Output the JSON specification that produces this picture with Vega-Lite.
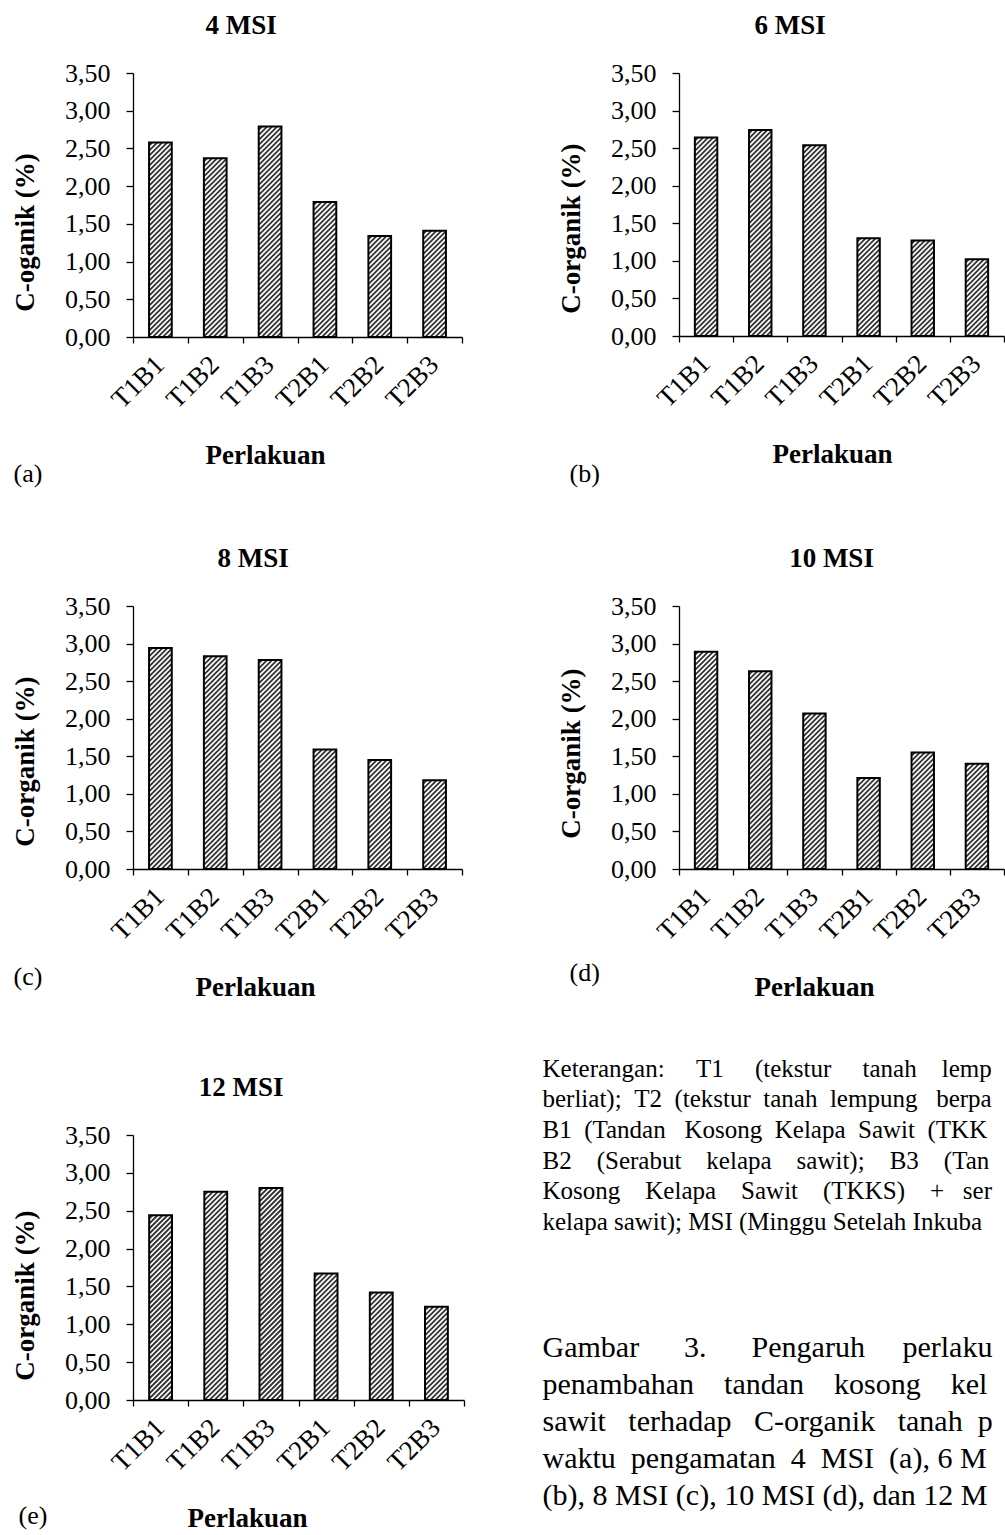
{
  "$schema": "https://vega.github.io/schema/vega-lite/v6.json",
  "background": "white",
  "padding": {"left": 11, "top": 12, "right": 0, "bottom": 0},
  "autosize": {"type": "pad"},
  "config": {
    "font": "Liberation Serif",
    "view": {"stroke": null},
    "title": {"font": "Liberation Serif", "fontSize": 27, "fontWeight": "bold", "color": "black", "anchor": "middle", "frame": "bounds", "offset": 20},
    "axis": {"labelFont": "Liberation Serif", "titleFont": "Liberation Serif", "labelFontSize": 26, "titleFontSize": 27, "titleFontWeight": "bold", "labelColor": "black", "titleColor": "black", "domainColor": "black", "tickColor": "black", "domainWidth": 1.3, "tickWidth": 1.3, "grid": false, "labelOverlap": false, "labelFlush": false},
    "axisX": {"labelAngle": -45, "labelFontSize": 27, "labelOffset": -10, "tickSize": 6, "tickBand": "extent", "labelPadding": 8, "titlePadding": 30},
    "axisY": {"tickSize": 7, "labelPadding": 16, "titlePadding": 25}
  },
  "datasets": {
    "c": [
      {"msi": "4 MSI", "perlakuan": "T1B1", "c": 2.58},
      {"msi": "4 MSI", "perlakuan": "T1B2", "c": 2.37},
      {"msi": "4 MSI", "perlakuan": "T1B3", "c": 2.79},
      {"msi": "4 MSI", "perlakuan": "T2B1", "c": 1.79},
      {"msi": "4 MSI", "perlakuan": "T2B2", "c": 1.34},
      {"msi": "4 MSI", "perlakuan": "T2B3", "c": 1.41},
      {"msi": "6 MSI", "perlakuan": "T1B1", "c": 2.64},
      {"msi": "6 MSI", "perlakuan": "T1B2", "c": 2.74},
      {"msi": "6 MSI", "perlakuan": "T1B3", "c": 2.54},
      {"msi": "6 MSI", "perlakuan": "T2B1", "c": 1.30},
      {"msi": "6 MSI", "perlakuan": "T2B2", "c": 1.27},
      {"msi": "6 MSI", "perlakuan": "T2B3", "c": 1.02},
      {"msi": "8 MSI", "perlakuan": "T1B1", "c": 2.94},
      {"msi": "8 MSI", "perlakuan": "T1B2", "c": 2.83},
      {"msi": "8 MSI", "perlakuan": "T1B3", "c": 2.78},
      {"msi": "8 MSI", "perlakuan": "T2B1", "c": 1.59},
      {"msi": "8 MSI", "perlakuan": "T2B2", "c": 1.45},
      {"msi": "8 MSI", "perlakuan": "T2B3", "c": 1.18},
      {"msi": "10 MSI", "perlakuan": "T1B1", "c": 2.89},
      {"msi": "10 MSI", "perlakuan": "T1B2", "c": 2.63},
      {"msi": "10 MSI", "perlakuan": "T1B3", "c": 2.07},
      {"msi": "10 MSI", "perlakuan": "T2B1", "c": 1.21},
      {"msi": "10 MSI", "perlakuan": "T2B2", "c": 1.55},
      {"msi": "10 MSI", "perlakuan": "T2B3", "c": 1.40},
      {"msi": "12 MSI", "perlakuan": "T1B1", "c": 2.44},
      {"msi": "12 MSI", "perlakuan": "T1B2", "c": 2.75},
      {"msi": "12 MSI", "perlakuan": "T1B3", "c": 2.80},
      {"msi": "12 MSI", "perlakuan": "T2B1", "c": 1.67},
      {"msi": "12 MSI", "perlakuan": "T2B2", "c": 1.42},
      {"msi": "12 MSI", "perlakuan": "T2B3", "c": 1.23}
    ]
  },
  "spacing": 77,
  "hconcat": [
    {
      "spacing": 73,
      "vconcat": [
        {
          "spacing": 58,
          "vconcat": [
            {
              "title": {"text": "(a)", "orient": "bottom", "anchor": "start", "fontWeight": "normal", "fontSize": 26, "offset": -8, "dx": 2},
              "vconcat": [
                {
                  "title": {"text": "4 MSI", "dx": 4},
                  "width": 329, "height": 264,
                  "data": {"name": "c"},
                  "transform": [{"filter": "datum.msi == '4 MSI'"}],
                  "encoding": {
                    "x": {"field": "perlakuan", "type": "nominal", "sort": null, "scale": {"paddingInner": 0, "paddingOuter": 0}, "axis": {"title": "Perlakuan", "titleX": 132}},
                    "y": {"field": "c", "type": "quantitative", "scale": {"domain": [0, 3.5], "nice": false}, "axis": {"title": "C-oganik (%)", "titleY": 159, "values": [0, 0.5, 1, 1.5, 2, 2.5, 3, 3.5], "labelExpr": "replace(format(datum.value, '.2f'), '.', ',')"}}
                  },
                  "layer": [
                    {"mark": {"type": "point", "shape": "M-11 3L-8 0M-11 8L-3 0M-11 13L2 0M-11 18L7 0M-11 23L11 1M-11 28L11 6M-11 33L11 11M-11 38L11 16M-11 43L11 21M-11 48L11 26M-11 53L11 31M-11 58L11 36M-11 63L11 41M-11 68L11 46M-11 73L11 51M-11 78L11 56M-11 83L11 61M-11 88L11 66M-11 93L11 71M-11 98L11 76M-11 103L11 81M-11 108L11 86M-11 113L11 91M-11 118L11 96M-11 123L11 101M-11 128L11 106M-11 133L11 111M-11 138L11 116M-11 143L11 121M-11 148L11 126M-11 153L11 131M-11 158L11 136M-11 163L11 141M-11 168L11 146M-11 173L11 151M-11 178L11 156M-11 183L11 161M-11 188L11 166M-11 193L11 171M-11 198L11 176M-11 203L11 181M-11 208L11 186M-11 213L11 191M-11 218L11 196M-11 223L11 201M-11 228L11 206M-11 233L11 211M-11 238L11 216M-11 243L11 221M-11 248L11 226", "size": 4, "filled": false, "stroke": "#333333", "strokeWidth": 1.8, "opacity": 1, "clip": true}},
                    {"mark": {"type": "bar", "width": {"band": 0.414}, "fill": "white", "fillOpacity": 0, "stroke": "black", "strokeWidth": 2}}
                  ]
                }
              ]
            },
            {
              "title": {"text": "(c)", "orient": "bottom", "anchor": "start", "fontWeight": "normal", "fontSize": 26, "offset": -37, "dx": 2},
              "vconcat": [
                {
                  "title": {"text": "8 MSI", "dx": 16},
                  "width": 329, "height": 263,
                  "data": {"name": "c"},
                  "transform": [{"filter": "datum.msi == '8 MSI'"}],
                  "encoding": {
                    "x": {"field": "perlakuan", "type": "nominal", "sort": null, "scale": {"paddingInner": 0, "paddingOuter": 0}, "axis": {"title": "Perlakuan", "titleX": 122}},
                    "y": {"field": "c", "type": "quantitative", "scale": {"domain": [0, 3.5], "nice": false}, "axis": {"title": "C-organik (%)", "titleY": 155, "values": [0, 0.5, 1, 1.5, 2, 2.5, 3, 3.5], "labelExpr": "replace(format(datum.value, '.2f'), '.', ',')"}}
                  },
                  "layer": [
                    {"mark": {"type": "point", "shape": "M-11 3L-8 0M-11 8L-3 0M-11 13L2 0M-11 18L7 0M-11 23L11 1M-11 28L11 6M-11 33L11 11M-11 38L11 16M-11 43L11 21M-11 48L11 26M-11 53L11 31M-11 58L11 36M-11 63L11 41M-11 68L11 46M-11 73L11 51M-11 78L11 56M-11 83L11 61M-11 88L11 66M-11 93L11 71M-11 98L11 76M-11 103L11 81M-11 108L11 86M-11 113L11 91M-11 118L11 96M-11 123L11 101M-11 128L11 106M-11 133L11 111M-11 138L11 116M-11 143L11 121M-11 148L11 126M-11 153L11 131M-11 158L11 136M-11 163L11 141M-11 168L11 146M-11 173L11 151M-11 178L11 156M-11 183L11 161M-11 188L11 166M-11 193L11 171M-11 198L11 176M-11 203L11 181M-11 208L11 186M-11 213L11 191M-11 218L11 196M-11 223L11 201M-11 228L11 206M-11 233L11 211M-11 238L11 216M-11 243L11 221M-11 248L11 226", "size": 4, "filled": false, "stroke": "#333333", "strokeWidth": 1.8, "opacity": 1, "clip": true}},
                    {"mark": {"type": "bar", "width": {"band": 0.414}, "fill": "white", "fillOpacity": 0, "stroke": "black", "strokeWidth": 2}}
                  ]
                }
              ]
            }
          ]
        },
        {
          "title": {"text": "(e)", "orient": "bottom", "anchor": "start", "fontWeight": "normal", "fontSize": 26, "offset": -29, "dx": 7},
          "vconcat": [
            {
              "title": {"text": "12 MSI", "dx": 3},
              "width": 331, "height": 265,
              "data": {"name": "c"},
              "transform": [{"filter": "datum.msi == '12 MSI'"}],
              "encoding": {
                "x": {"field": "perlakuan", "type": "nominal", "sort": null, "scale": {"paddingInner": 0, "paddingOuter": 0}, "axis": {"title": "Perlakuan", "titleX": 114}},
                "y": {"field": "c", "type": "quantitative", "scale": {"domain": [0, 3.5], "nice": false}, "axis": {"title": "C-organik (%)", "titleY": 160, "values": [0, 0.5, 1, 1.5, 2, 2.5, 3, 3.5], "labelExpr": "replace(format(datum.value, '.2f'), '.', ',')"}}
              },
              "layer": [
                {"mark": {"type": "point", "shape": "M-11 3L-8 0M-11 8L-3 0M-11 13L2 0M-11 18L7 0M-11 23L11 1M-11 28L11 6M-11 33L11 11M-11 38L11 16M-11 43L11 21M-11 48L11 26M-11 53L11 31M-11 58L11 36M-11 63L11 41M-11 68L11 46M-11 73L11 51M-11 78L11 56M-11 83L11 61M-11 88L11 66M-11 93L11 71M-11 98L11 76M-11 103L11 81M-11 108L11 86M-11 113L11 91M-11 118L11 96M-11 123L11 101M-11 128L11 106M-11 133L11 111M-11 138L11 116M-11 143L11 121M-11 148L11 126M-11 153L11 131M-11 158L11 136M-11 163L11 141M-11 168L11 146M-11 173L11 151M-11 178L11 156M-11 183L11 161M-11 188L11 166M-11 193L11 171M-11 198L11 176M-11 203L11 181M-11 208L11 186M-11 213L11 191M-11 218L11 196M-11 223L11 201M-11 228L11 206M-11 233L11 211M-11 238L11 216M-11 243L11 221M-11 248L11 226", "size": 4, "filled": false, "stroke": "#333333", "strokeWidth": 1.8, "opacity": 1, "clip": true}},
                {"mark": {"type": "bar", "width": {"band": 0.414}, "fill": "white", "fillOpacity": 0, "stroke": "black", "strokeWidth": 2}}
              ]
            }
          ]
        }
      ]
    },
    {
      "spacing": 58,
      "title": {
        "text": ["Keterangan: \u00a0\u00a0\u00a0\u00a0T1 \u00a0\u00a0\u00a0\u00a0(tekstur \u00a0\u00a0\u00a0\u00a0tanah \u00a0\u00a0\u00a0lemp", "berliat); \u00a0T2 \u00a0(tekstur \u00a0tanah \u00a0lempung \u00a0\u00a0berpa", "B1 \u00a0(Tandan \u00a0\u00a0Kosong \u00a0Kelapa \u00a0Sawit \u00a0(TKK", "B2 \u00a0\u00a0\u00a0(Serabut \u00a0\u00a0\u00a0kelapa \u00a0\u00a0\u00a0sawit); \u00a0\u00a0\u00a0B3 \u00a0\u00a0\u00a0(Tan", "Kosong \u00a0\u00a0\u00a0Kelapa \u00a0\u00a0\u00a0Sawit \u00a0\u00a0\u00a0(TKKS) \u00a0\u00a0\u00a0+ \u00a0\u00a0ser", "kelapa sawit); MSI (Minggu Setelah Inkuba"],
        "subtitle": ["Gambar \u00a0\u00a0\u00a0\u00a0\u00a03. \u00a0\u00a0\u00a0\u00a0\u00a0Pengaruh \u00a0\u00a0\u00a0\u00a0perlaku", "penambahan \u00a0\u00a0\u00a0tandan \u00a0\u00a0\u00a0kosong \u00a0\u00a0\u00a0kel", "sawit \u00a0\u00a0terhadap \u00a0\u00a0C-organik \u00a0\u00a0tanah \u00a0p", "waktu \u00a0pengamatan \u00a04 \u00a0MSI \u00a0(a), 6 M", "(b), 8 MSI (c), 10 MSI (d), dan 12 M"],
        "orient": "bottom", "anchor": "start", "frame": "bounds", "align": "left", "dx": -15,
        "fontSize": 25, "fontWeight": "normal", "lineHeight": 30.6, "offset": 56,
        "subtitleFont": "Liberation Serif", "subtitleFontSize": 30, "subtitleLineHeight": 37, "subtitleColor": "black", "subtitlePadding": 98
      },
      "vconcat": [
        {
          "title": {"text": "(b)", "orient": "bottom", "anchor": "start", "fontWeight": "normal", "fontSize": 26, "offset": -7, "dx": 12},
          "vconcat": [
            {
              "title": {"text": "6 MSI", "dx": 9},
              "width": 325, "height": 263,
              "data": {"name": "c"},
              "transform": [{"filter": "datum.msi == '6 MSI'"}],
              "encoding": {
                "x": {"field": "perlakuan", "type": "nominal", "sort": null, "scale": {"paddingInner": 0, "paddingOuter": 0}, "axis": {"title": "Perlakuan", "titleX": 153}},
                "y": {"field": "c", "type": "quantitative", "scale": {"domain": [0, 3.5], "nice": false}, "axis": {"title": "C-organik (%)", "titleY": 155, "values": [0, 0.5, 1, 1.5, 2, 2.5, 3, 3.5], "labelExpr": "replace(format(datum.value, '.2f'), '.', ',')"}}
              },
              "layer": [
                {"mark": {"type": "point", "shape": "M-11 3L-8 0M-11 8L-3 0M-11 13L2 0M-11 18L7 0M-11 23L11 1M-11 28L11 6M-11 33L11 11M-11 38L11 16M-11 43L11 21M-11 48L11 26M-11 53L11 31M-11 58L11 36M-11 63L11 41M-11 68L11 46M-11 73L11 51M-11 78L11 56M-11 83L11 61M-11 88L11 66M-11 93L11 71M-11 98L11 76M-11 103L11 81M-11 108L11 86M-11 113L11 91M-11 118L11 96M-11 123L11 101M-11 128L11 106M-11 133L11 111M-11 138L11 116M-11 143L11 121M-11 148L11 126M-11 153L11 131M-11 158L11 136M-11 163L11 141M-11 168L11 146M-11 173L11 151M-11 178L11 156M-11 183L11 161M-11 188L11 166M-11 193L11 171M-11 198L11 176M-11 203L11 181M-11 208L11 186M-11 213L11 191M-11 218L11 196M-11 223L11 201M-11 228L11 206M-11 233L11 211M-11 238L11 216M-11 243L11 221M-11 248L11 226", "size": 4, "filled": false, "stroke": "#333333", "strokeWidth": 1.8, "opacity": 1, "clip": true}},
                {"mark": {"type": "bar", "width": {"band": 0.414}, "fill": "white", "fillOpacity": 0, "stroke": "black", "strokeWidth": 2}}
              ]
            }
          ]
        },
        {
          "title": {"text": "(d)", "orient": "bottom", "anchor": "start", "fontWeight": "normal", "fontSize": 26, "offset": -41, "dx": 12},
          "vconcat": [
            {
              "title": {"text": "10 MSI", "frame": "group", "dx": -10},
              "width": 325, "height": 263,
              "data": {"name": "c"},
              "transform": [{"filter": "datum.msi == '10 MSI'"}],
              "encoding": {
                "x": {"field": "perlakuan", "type": "nominal", "sort": null, "scale": {"paddingInner": 0, "paddingOuter": 0}, "axis": {"title": "Perlakuan", "titleX": 135}},
                "y": {"field": "c", "type": "quantitative", "scale": {"domain": [0, 3.5], "nice": false}, "axis": {"title": "C-organik (%)", "titleY": 147, "values": [0, 0.5, 1, 1.5, 2, 2.5, 3, 3.5], "labelExpr": "replace(format(datum.value, '.2f'), '.', ',')"}}
              },
              "layer": [
                {"mark": {"type": "point", "shape": "M-11 3L-8 0M-11 8L-3 0M-11 13L2 0M-11 18L7 0M-11 23L11 1M-11 28L11 6M-11 33L11 11M-11 38L11 16M-11 43L11 21M-11 48L11 26M-11 53L11 31M-11 58L11 36M-11 63L11 41M-11 68L11 46M-11 73L11 51M-11 78L11 56M-11 83L11 61M-11 88L11 66M-11 93L11 71M-11 98L11 76M-11 103L11 81M-11 108L11 86M-11 113L11 91M-11 118L11 96M-11 123L11 101M-11 128L11 106M-11 133L11 111M-11 138L11 116M-11 143L11 121M-11 148L11 126M-11 153L11 131M-11 158L11 136M-11 163L11 141M-11 168L11 146M-11 173L11 151M-11 178L11 156M-11 183L11 161M-11 188L11 166M-11 193L11 171M-11 198L11 176M-11 203L11 181M-11 208L11 186M-11 213L11 191M-11 218L11 196M-11 223L11 201M-11 228L11 206M-11 233L11 211M-11 238L11 216M-11 243L11 221M-11 248L11 226", "size": 4, "filled": false, "stroke": "#333333", "strokeWidth": 1.8, "opacity": 1, "clip": true}},
                {"mark": {"type": "bar", "width": {"band": 0.414}, "fill": "white", "fillOpacity": 0, "stroke": "black", "strokeWidth": 2}}
              ]
            }
          ]
        }
      ]
    }
  ]
}
